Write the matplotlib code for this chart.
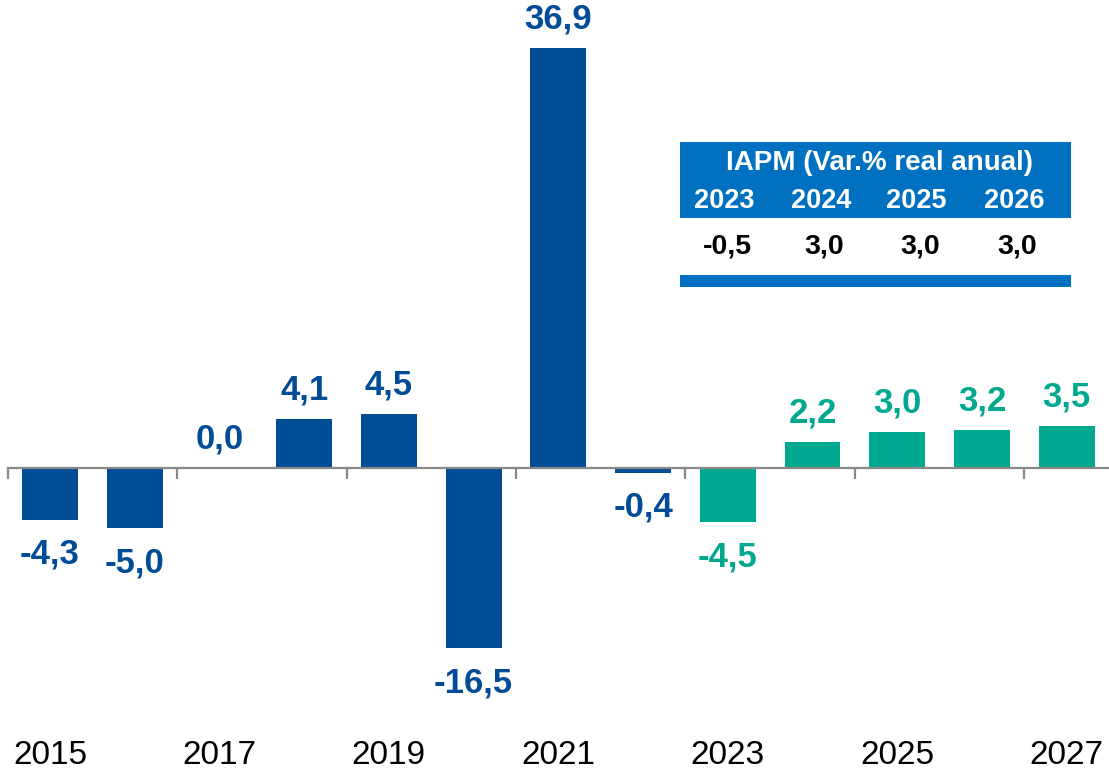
import matplotlib.pyplot as plt
from matplotlib.patches import Rectangle
import numpy as np

plt.rcParams['font.family'] = ['Liberation Sans', 'DejaVu Sans']

years = [2015, 2016, 2017, 2018, 2019, 2020, 2021, 2022, 2023, 2024, 2025, 2026, 2027]
values = [-4.3, -5.0, 0.0, 4.1, 4.5, -16.5, 36.9, -0.4, -4.5, 2.2, 3.0, 3.2, 3.5]
first_projected = 2023

table_title = 'IAPM (Var.% real anual)'
table_years = ['2023', '2024', '2025', '2026']
table_values = ['-0,5', '3,0', '3,0', '3,0']

dark_blue = '#004C97'
teal = '#00A88F'
table_blue = '#0070C0'
axis_gray = '#888888'

ymin, ymax = -15, 35

fig = plt.figure(figsize=(11.09, 7.74), dpi=100)
ax = fig.add_axes([0.0069, 0.1628, 0.9931, 0.7752])

x = np.arange(len(years))
colors = [teal if y >= first_projected else dark_blue for y in years]
ax.bar(x, values, width=0.66, color=colors, zorder=2)

ax.set_xlim(-0.5, len(years) - 0.5)
ax.set_ylim(ymin, ymax)

# zero line with separator ticks every two years
ax.spines['bottom'].set_position(('data', 0))
ax.spines['bottom'].set_color(axis_gray)
ax.spines['bottom'].set_linewidth(1.6)
ax.spines['bottom'].set_zorder(3)
for s in ['top', 'right', 'left']:
    ax.spines[s].set_visible(False)
ax.set_yticks([])
ax.set_xticks(x[::2])
ax.set_xticklabels([])
ax.tick_params(axis='x', which='major', length=0)
ax.set_xticks(x[::2] - 0.5, minor=True)
ax.tick_params(axis='x', which='minor', length=8, width=1.6, color=axis_gray, direction='out')

# year labels along the bottom
for i in x[::2]:
    ax.text(i, -0.18, str(years[i]), transform=ax.get_xaxis_transform(),
            ha='center', va='center', fontsize=24, color='black')

# value labels
for i, v in enumerate(values):
    yv = min(max(v, ymin), ymax)
    label = f'{v:.1f}'.replace('.', ',')
    if v >= 0:
        ax.annotate(label, (i, yv), xytext=(0, 14), textcoords='offset points',
                    ha='center', va='baseline', fontsize=25, fontweight='bold',
                    color=colors[i], annotation_clip=False)
    else:
        ax.annotate(label, (i, yv), xytext=(0, -13), textcoords='offset points',
                    ha='center', va='top', fontsize=25, fontweight='bold',
                    color=colors[i], annotation_clip=False)

# inset table
fig.patches.append(Rectangle((0.6132, 0.7183), 0.3526, 0.0982, transform=fig.transFigure,
                             facecolor=table_blue, edgecolor='none'))
fig.patches.append(Rectangle((0.6132, 0.6292), 0.3526, 0.0155, transform=fig.transFigure,
                             facecolor=table_blue, edgecolor='none'))
fig.text(0.7935, 0.7894, table_title, ha='center', va='center', fontsize=20,
         fontweight='bold', color='white')
col_x = [0.653, 0.7405, 0.8265, 0.9145]
for cx, yr, val in zip(col_x, table_years, table_values):
    fig.text(cx, 0.7403, yr, ha='center', va='center', fontsize=19.5,
             fontweight='bold', color='white')
    fig.text(cx + 0.003, 0.6809, val, ha='center', va='center', fontsize=20.5,
             fontweight='bold', color='black')

fig.savefig('out.png', dpi=100)
